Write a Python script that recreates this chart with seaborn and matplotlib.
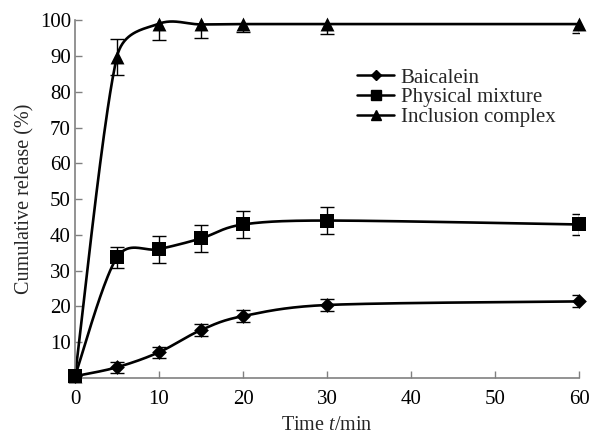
import matplotlib
matplotlib.use("Agg")
import matplotlib.pyplot as plt
from matplotlib.lines import Line2D
import numpy as np
import pandas as pd
import seaborn as sns

# Data
time_min = [0, 5, 10, 15, 20, 30, 60]
baicalein = [0.5, 3.0, 7.2, 13.4, 17.3, 20.4, 21.4]
baicalein_err = [0.5, 1.6, 1.6, 1.6, 1.6, 1.7, 1.7]
physical = [0.5, 33.7, 36.0, 39.0, 42.9, 44.0, 42.9]
physical_err = [0.5, 3.0, 3.8, 3.8, 3.8, 3.8, 3.0]
inclusion = [0.5, 89.8, 99.0, 98.8, 98.9, 98.9, 98.9]
inclusion_err = [0.5, 5.0, 4.5, 3.8, 2.3, 2.8, 2.6]

series_names = ["Baicalein", "Physical mixture", "Inclusion complex"]
series_values = [baicalein, physical, inclusion]
series_errors = [baicalein_err, physical_err, inclusion_err]
markers = ["D", "s", "^"]
marker_sizes = [7.5, 9.5, 10]


def _clip(vec, limit):
    n = np.linalg.norm(vec)
    return vec if n <= limit or n == 0 else vec * (limit / n)


def smooth_curve(ax, xs, ys, n=40, clip=0.5):
    """Excel-style smoothed line (Catmull-Rom Bezier) in display space,
    with control arms limited to a fraction of the segment length."""
    pts = ax.transData.transform(np.column_stack([xs, ys]))
    m = len(pts)
    out = []
    for i in range(m - 1):
        p0 = pts[max(i - 1, 0)]
        p1 = pts[i]
        p2 = pts[i + 1]
        p3 = pts[min(i + 2, m - 1)]
        seg_len = np.linalg.norm(p2 - p1)
        c1 = p1 + _clip((p2 - p0) / 6.0, clip * seg_len)
        c2 = p2 - _clip((p3 - p1) / 6.0, clip * seg_len)
        t = np.linspace(0, 1, n)[:, None]
        seg = ((1 - t) ** 3) * p1 + 3 * ((1 - t) ** 2) * t * c1 + 3 * (1 - t) * t ** 2 * c2 + t ** 3 * p2
        out.append(seg if i == 0 else seg[1:])
    curve = np.vstack(out)
    return ax.transData.inverted().transform(curve)


sns.set_theme(style="ticks")
plt.rcParams.update(
    {
        "font.family": ["Liberation Serif", "DejaVu Serif"],
        "mathtext.fontset": "custom",
        "mathtext.it": "Liberation Serif:italic",
        "mathtext.rm": "Liberation Serif",
        "axes.edgecolor": "#808080",
        "xtick.color": "#808080",
        "ytick.color": "#808080",
        "xtick.labelcolor": "black",
        "ytick.labelcolor": "black",
    }
)

fig = plt.figure(figsize=(5.98, 4.38), dpi=100)
ax = fig.add_axes([0.1254, 0.137, 0.843, 0.817])
ax.set_xlim(0, 60)
ax.set_ylim(0, 100)

rows = []
for name, vals in zip(series_names, series_values):
    for t, v in zip(time_min, vals):
        rows.append({"Time": t, "Release": v, "Series": name})
df = pd.DataFrame(rows)

handles = []
for name, vals, errs, mk, ms in zip(series_names, series_values, series_errors, markers, marker_sizes):
    curve = smooth_curve(ax, time_min, vals)
    ax.plot(curve[:, 0], curve[:, 1], color="black", lw=1.9, clip_on=False, zorder=2)
    ax.errorbar(time_min[1:], vals[1:], yerr=errs[1:], fmt="none", ecolor="black",
                elinewidth=1.0, capsize=5, capthick=1.0, zorder=3)
    sub = df[df["Series"] == name]
    sns.scatterplot(data=sub, x="Time", y="Release", marker=mk, s=ms ** 2, color="black",
                    edgecolor="black", linewidth=0, ax=ax, clip_on=False, zorder=4, legend=False)
    handles.append(Line2D([], [], color="black", lw=1.8, marker=mk, markersize=ms * 0.72, label=name))

ax.set_xticks([0, 10, 20, 30, 40, 50, 60])
ax.set_yticks([10, 20, 30, 40, 50, 60, 70, 80, 90, 100])
ax.tick_params(direction="in", length=5, width=1, labelsize=15)
ax.tick_params(axis="x", pad=9)
ax.tick_params(axis="y", pad=3)
sns.despine(ax=ax)
for sp in ["left", "bottom"]:
    ax.spines[sp].set_linewidth(1.2)

ax.set_xlabel("Time $t$/min", fontsize=14.5, labelpad=5)
ax.set_ylabel("Cumulative release (%)", fontsize=14.5, labelpad=3.5)

ax.legend(handles=handles, loc="upper left", bbox_to_anchor=(0.56, 0.866), frameon=False,
          fontsize=15, handlelength=1.75, handletextpad=0.33, labelspacing=0.0,
          borderpad=0, borderaxespad=0)

fig.savefig("out.png", dpi=100)
